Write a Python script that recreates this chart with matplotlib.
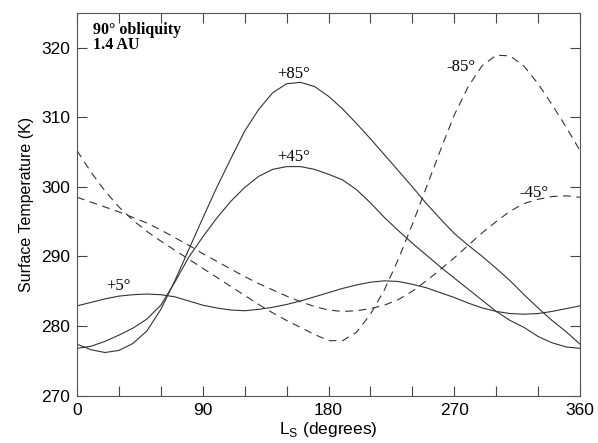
import matplotlib
matplotlib.use("Agg")
import matplotlib.pyplot as plt
import numpy as np

plt.rcParams['font.family'] = ['Liberation Sans', 'DejaVu Sans']
plt.rcParams['mathtext.fontset'] = 'custom'
plt.rcParams['mathtext.rm'] = 'Liberation Sans'

# Ls (degrees), read every 10 degrees
ls = np.arange(0, 361, 10)

# surface temperature (K) for each latitude
t_p85 = [277.4, 276.6, 276.2, 276.5, 277.5, 279.3, 282.4, 286.5, 291.0, 295.5,
         299.9, 304.0, 308.0, 311.1, 313.5, 314.8, 315.0, 314.4, 313.0, 311.2,
         309.1, 306.9, 304.6, 302.3, 300.0, 297.6, 295.4, 293.3, 291.6, 290.0,
         288.3, 286.5, 284.5, 282.6, 280.8, 279.2, 277.4]
t_p45 = [276.8, 277.1, 277.8, 278.7, 279.7, 281.0, 283.0, 286.3, 289.9, 292.8,
         295.5, 297.9, 299.9, 301.5, 302.5, 302.9, 302.9, 302.5, 301.8, 301.0,
         299.6, 297.7, 295.6, 293.7, 291.9, 290.2, 288.5, 286.9, 285.3, 283.7,
         282.1, 280.8, 279.8, 278.5, 277.6, 277.0, 276.8]
t_p5 = [282.9, 283.4, 283.9, 284.3, 284.5, 284.6, 284.5, 284.2, 283.6, 283.0,
        282.6, 282.3, 282.2, 282.4, 282.7, 283.1, 283.6, 284.2, 284.8, 285.4,
        285.9, 286.3, 286.5, 286.4, 286.0, 285.5, 284.8, 284.1, 283.3, 282.6,
        282.1, 281.8, 281.7, 281.8, 282.1, 282.5, 282.9]
t_m85 = [305.2, 302.1, 299.4, 297.1, 295.2, 293.6, 292.2, 290.9, 289.6, 288.3,
         287.0, 285.7, 284.4, 283.1, 281.9, 280.8, 279.8, 278.8, 277.9, 277.9,
         279.1, 281.7, 285.2, 289.6, 294.6, 299.9, 305.2, 310.3, 314.4, 317.4,
         318.9, 318.8, 317.3, 314.8, 311.8, 308.6, 305.2]
t_m45 = [298.5, 297.8, 297.1, 296.4, 295.6, 294.8, 293.8, 292.7, 291.6, 290.4,
         289.3, 288.2, 287.1, 286.1, 285.2, 284.3, 283.5, 282.8, 282.3, 282.1,
         282.2, 282.5, 283.0, 283.8, 285.0, 286.5, 288.1, 289.8, 291.6, 293.4,
         295.0, 296.5, 297.6, 298.2, 298.6, 298.7, 298.5]

labels = ['+85°', '+45°', '+5°', '-85°', '-45°']
label_pos = [(155, 316.2), (155, 304.3), (30, 285.7), (275, 317.2), (327, 299.1)]

fig = plt.figure(figsize=(5.98, 4.43), dpi=100)
ax = fig.add_axes([0.1288, 0.1068, 0.8411, 0.8645])

lc = '#333333'
ax.plot(ls, t_p85, color=lc, lw=0.8)
ax.plot(ls, t_p45, color=lc, lw=0.8)
ax.plot(ls, t_p5, color=lc, lw=0.8)
ax.plot(ls, t_m85, color=lc, lw=0.8, dashes=(7, 5))
ax.plot(ls, t_m45, color=lc, lw=0.8, dashes=(7, 5))

serif = ['Liberation Serif', 'DejaVu Serif']
for lab, (x, y) in zip(labels, label_pos):
    ax.text(x, y, lab, ha='center', va='center', fontsize=12, family=serif)

ax.text(0.032, 0.975, '90° obliquity\n1.4 AU', transform=ax.transAxes,
        fontsize=11.5, fontweight='bold', family=serif, va='top', ha='left',
        linespacing=0.88)

ax.set_xlim(0, 360)
ax.set_ylim(270, 325)
ax.set_xticks([0, 90, 180, 270, 360])
ax.set_xticks(np.arange(0, 361, 30), minor=True)
ax.set_yticks(np.arange(270, 321, 10))
ax.tick_params(which='both', direction='in', top=True, right=True,
               length=7, width=0.8, color='#444444', labelsize=12.5)
ax.tick_params(axis='x', pad=5)
ax.tick_params(axis='y', pad=5)
for s in ax.spines.values():
    s.set_linewidth(0.8)
    s.set_color('#555555')

ax.set_xlabel('L$_{\\mathrm{S}}$ (degrees)', fontsize=12.5, labelpad=2)
ax.set_ylabel('Surface Temperature (K)', fontsize=11.5, labelpad=5)

fig.savefig('out.png', dpi=100)
